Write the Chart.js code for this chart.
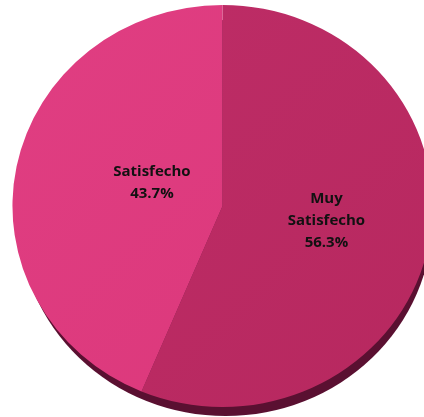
<!DOCTYPE html>
<html lang="es">
<head>
    <meta charset="UTF-8">
    <title>Nivel de satisfacción</title>
    <script src="https://cdn.jsdelivr.net/npm/chart.js"></script>
    <style>
        html, body { margin: 0; padding: 0; background: #fff; overflow: hidden; }
        #wrap { width: 424px; height: 417px; }
    </style>
</head>
<body>
    <div id="wrap"><canvas id="pieChart" width="424" height="417"></canvas></div>

    <script>
        // Datos
        const categorias = ['Muy\nSatisfecho', 'Satisfecho'];
        const porcentajes = [56.3, 43.7];
        const colores = ['#B7285F', '#DB377A'];
        const coloresClaros = ['#BE2D67', '#E03E82'];
        const bordeSombra = '#5A1031';

        // estira el circulo un poco en horizontal (vista inclinada)
        const ESTIRAR_X = 1.045;
        // posicion de cada etiqueta: radio relativo y giro (grados) respecto al centro del sector
        const radioEtiqueta = [0.5, 0.355];
        const giroEtiqueta = [-3, 7.5];

        function estirar(chart) {
            const arc = chart.getDatasetMeta(0).data[0];
            const ctx = chart.ctx;
            ctx.translate(arc.x, arc.y);
            ctx.scale(ESTIRAR_X, 1);
            ctx.translate(-arc.x, -arc.y);
        }

        const pie3d = {
            id: 'pie3d',
            beforeDatasetsDraw(chart) {
                const ctx = chart.ctx;
                const arc = chart.getDatasetMeta(0).data[0];
                ctx.save();
                estirar(chart);
                // canto inferior oscuro
                ctx.beginPath();
                ctx.arc(arc.x + 3, arc.y + 12, arc.outerRadius - 3, 0, Math.PI * 2);
                ctx.fillStyle = bordeSombra;
                ctx.fill();
                ctx.restore();
                ctx.save();
                estirar(chart);
            },
            afterDatasetsDraw(chart) {
                const ctx = chart.ctx;
                ctx.restore();
                // etiquetas
                const meta = chart.getDatasetMeta(0);
                ctx.save();
                ctx.font = 'bold 15px "Open Sans", "DejaVu Sans", sans-serif';
                ctx.fillStyle = '#111';
                ctx.textAlign = 'center';
                ctx.textBaseline = 'middle';
                meta.data.forEach((a, i) => {
                    const mid = (a.startAngle + a.endAngle) / 2 + giroEtiqueta[i] * Math.PI / 180;
                    const r = a.outerRadius * radioEtiqueta[i];
                    const x = a.x + Math.cos(mid) * r * ESTIRAR_X;
                    const y = a.y + Math.sin(mid) * r;
                    const lineas = categorias[i].split('\n').concat(porcentajes[i].toFixed(1) + '%');
                    const alto = 22;
                    const y0 = y - (lineas.length - 1) * alto / 2;
                    lineas.forEach((t, k) => ctx.fillText(t, x, y0 + k * alto));
                });
                ctx.restore();
            }
        };

        function relleno(context) {
            const i = context.dataIndex;
            const chart = context.chart;
            const area = chart.chartArea;
            if (!area) return colores[i];
            const g = chart.ctx.createLinearGradient(area.left, area.top, area.right, area.bottom);
            g.addColorStop(0, coloresClaros[i]);
            g.addColorStop(1, colores[i]);
            return g;
        }

        new Chart(document.getElementById('pieChart').getContext('2d'), {
            type: 'pie',
            data: {
                labels: categorias,
                datasets: [{
                    data: porcentajes,
                    backgroundColor: relleno,
                    borderWidth: 0
                }]
            },
            options: {
                responsive: false,
                animation: false,
                layout: { padding: { left: 21, top: 5, bottom: 10, right: 0 } },
                plugins: {
                    legend: { display: false },
                    tooltip: { enabled: false }
                }
            },
            plugins: [pie3d]
        });
    </script>
</body>
</html>
